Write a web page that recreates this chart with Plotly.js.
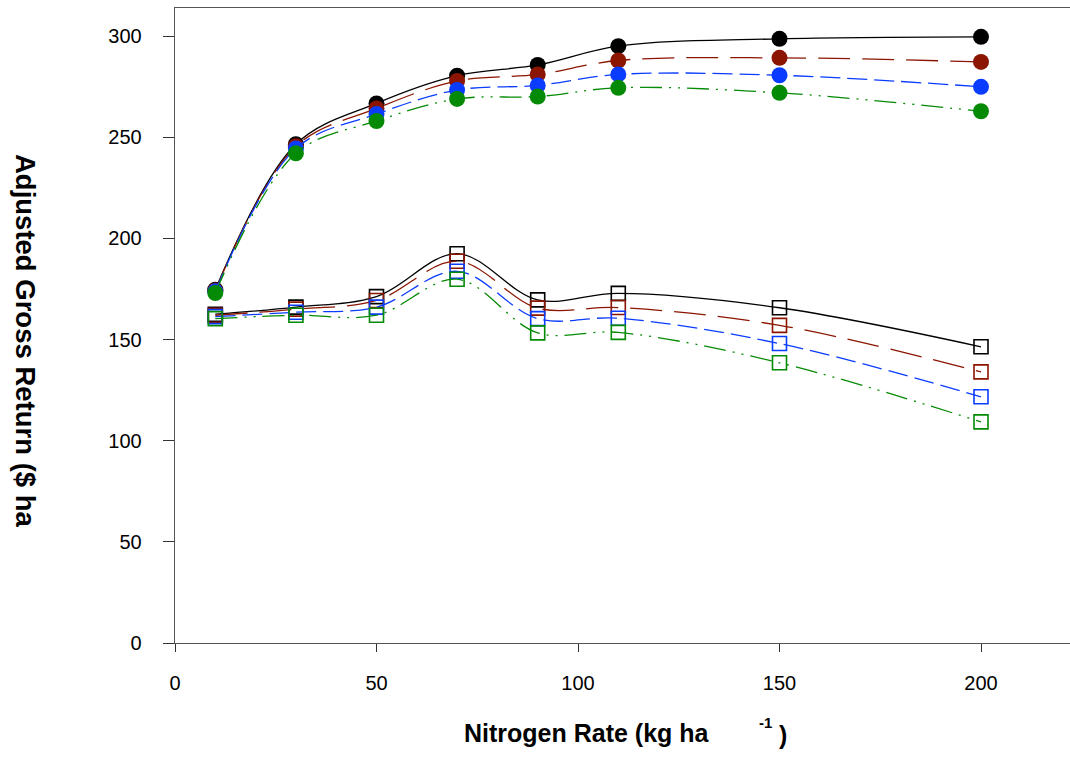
<!DOCTYPE html>
<html>
<head>
<meta charset="utf-8">
<script src="https://cdn.plot.ly/plotly-3.0.1.min.js"></script>
<style>html,body{margin:0;padding:0;background:#fff;}#chart{width:1070px;height:757px;}</style>
</head>
<body>
<div id="chart"></div>
<script>
// Nitrogen rate (kg/ha)
const nRate = [10, 30, 50, 70, 90, 110, 150, 200];

// Upper group (filled circles)
const upperBlack = [174.6, 246.5, 266.7, 280.4, 285.7, 295.0, 298.6, 299.6];
const upperRed   = [174.2, 245.5, 264.2, 277.8, 281.0, 287.9, 289.2, 287.2];
const upperBlue  = [173.8, 244.4, 261.4, 273.3, 275.6, 281.0, 280.6, 274.9];
const upperGreen = [173.0, 242.0, 258.0, 268.9, 270.1, 274.4, 271.9, 262.8];

// Lower group (open squares)
const lowerBlack = [162.5, 166.0, 171.2, 192.4, 169.6, 172.8, 165.7, 146.4];
const lowerRed   = [162.0, 165.0, 169.3, 188.7, 165.5, 165.8, 157.0, 134.0];
const lowerBlue  = [161.3, 163.5, 166.0, 183.7, 160.3, 160.5, 148.0, 121.7];
const lowerGreen = [160.3, 162.0, 162.0, 179.8, 153.3, 153.5, 138.5, 109.3];

const xTicks = [0, 50, 100, 150, 200];
const yTicks = [0, 50, 100, 150, 200, 250, 300];

const colors = {black: '#000000', red: '#8b1500', blue: '#0a3cff', green: '#058a05'};
const dashes = {
  black: 'solid',
  red: '32px,12px',
  blue: '20px,7px',
  green: '22px,7px,2px,7px,2px,7px'
};

function series(y, col, filled) {
  return {
    x: nRate, y: y, type: 'scatter', mode: 'lines+markers',
    line: {color: colors[col], width: 1.3, dash: dashes[col], shape: 'spline', smoothing: 1},
    marker: filled
      ? {symbol: 'circle', size: 16, color: colors[col], line: {width: 0}}
      : {symbol: 'square-open', size: 14, color: colors[col], line: {width: 1.6, color: colors[col]}},
    showlegend: false, hoverinfo: 'skip'
  };
}

const data = [
  series(lowerBlack, 'black', false),
  series(lowerRed, 'red', false),
  series(lowerBlue, 'blue', false),
  series(lowerGreen, 'green', false),
  series(upperBlack, 'black', true),
  series(upperRed, 'red', true),
  series(upperBlue, 'blue', true),
  series(upperGreen, 'green', true)
];

// pixel -> paper helpers (plot area: x 175..1070, y 8..643)
const L = 175, R = 1070, T = 8, B = 643;
const px = v => (v - L) / (R - L);
const py = v => (B - v) / (B - T);

const font = 'Liberation Sans, Arial, Helvetica, sans-serif';

const layout = {
  width: 1070, height: 757,
  margin: {l: L, r: 1070 - R, t: T, b: 757 - B, pad: 0},
  paper_bgcolor: '#ffffff', plot_bgcolor: '#ffffff',
  font: {family: font, color: '#000', size: 20},
  xaxis: {
    range: [0, (R - L) / 4.03], tickvals: xTicks, ticktext: xTicks.map(String),
    showgrid: false, zeroline: false, showline: true, linecolor: '#555', linewidth: 1.3,
    mirror: true, ticks: 'outside', ticklen: 8, tickcolor: '#333', tickwidth: 1,
    tickfont: {size: 20, family: font, color: '#000'}, ticklabelstandoff: 14
  },
  yaxis: {
    range: [0, (B - T) / 2.0233], tickvals: yTicks, ticktext: yTicks.map(String),
    showgrid: false, zeroline: false, showline: true, linecolor: '#555', linewidth: 1.3,
    ticks: 'outside', ticklen: 11, tickcolor: '#333', tickwidth: 1,
    tickfont: {size: 20, family: font, color: '#000'}, ticklabelstandoff: 17
  },
  annotations: [
    {text: '<b>Adjusted Gross Return ($ ha</b>', xref: 'paper', yref: 'paper',
     x: px(26), y: py(341), xanchor: 'center', yanchor: 'middle', textangle: 90,
     showarrow: false, font: {size: 27.5, family: font, color: '#000'}},
    {text: '<b>Nitrogen Rate (kg ha</b>', xref: 'paper', yref: 'paper',
     x: px(462), y: py(733), xanchor: 'left', yanchor: 'middle',
     showarrow: false, font: {size: 25, family: font, color: '#000'}},
    {text: '<b>-1</b>', xref: 'paper', yref: 'paper',
     x: px(757), y: py(722), xanchor: 'left', yanchor: 'middle',
     showarrow: false, font: {size: 15, family: font, color: '#000'}},
    {text: '<b>)</b>', xref: 'paper', yref: 'paper',
     x: px(777), y: py(735), xanchor: 'left', yanchor: 'middle',
     showarrow: false, font: {size: 25, family: font, color: '#000'}}
  ]
};

Plotly.newPlot('chart', data, layout, {displayModeBar: false, staticPlot: true});
</script>
</body>
</html>
